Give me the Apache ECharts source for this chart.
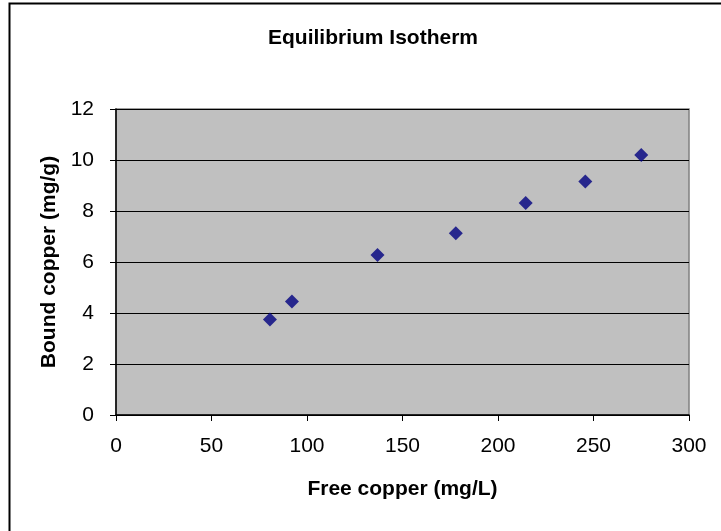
<!DOCTYPE html>
<html>
<head>
<meta charset="utf-8">
<script src="https://cdn.jsdelivr.net/npm/echarts@6/dist/echarts.min.js"></script>
<style>
  html, body { margin: 0; padding: 0; background: #fff; }
  #chart { width: 721px; height: 531px; }
</style>
</head>
<body>
<div id="chart"></div>
<script>
// free copper (mg/L) vs bound copper (mg/g)
const freeCopper = [80.6, 92.1, 136.9, 177.9, 214.5, 245.7, 275.0]
const boundCopper = [3.75, 4.45, 6.27, 7.13, 8.31, 9.16, 10.2]

const xTicks = [0, 50, 100, 150, 200, 250, 300]
const yTicks = [0, 2, 4, 6, 8, 10, 12]

const chart = echarts.init(document.getElementById('chart'))

const points = freeCopper.map((x, i) => [x, boundCopper[i]])

const font = '"Liberation Sans", Arial, sans-serif'

const option = {
  animation: false,
  backgroundColor: '#fff',
  title: {
    text: 'Equilibrium Isotherm',
    left: 263,
    top: 23,
    textStyle: { fontFamily: font, fontSize: 21, fontWeight: 'bold', color: '#000' }
  },
  graphic: [
    {
      type: 'rect',
      left: 7,
      top: 1,
      shape: { width: 730, height: 545 },
      style: { fill: 'none', stroke: '#000', lineWidth: 2 },
      silent: true
    }
  ],
  grid: {
    left: 116,
    top: 109,
    right: 32,
    bottom: 116,
    show: true,
    backgroundColor: '#c0c0c0',
    borderColor: '#808080',
    borderWidth: 1.5
  },
  xAxis: {
    type: 'value',
    min: xTicks[0],
    max: xTicks[xTicks.length - 1],
    interval: 50,
    name: 'Free copper (mg/L)',
    nameLocation: 'middle',
    nameGap: 64,
    nameTextStyle: { fontFamily: font, fontSize: 21, fontWeight: 'bold', color: '#000' },
    axisLine: { show: true, lineStyle: { color: '#000', width: 1.5 } },
    axisTick: { show: true, inside: false, length: 6, lineStyle: { color: '#000' } },
    axisLabel: { fontFamily: font, fontSize: 21, color: '#000', margin: 21 },
    splitLine: { show: false }
  },
  yAxis: {
    type: 'value',
    min: yTicks[0],
    max: yTicks[yTicks.length - 1],
    interval: 2,
    name: 'Bound copper (mg/g)',
    nameLocation: 'middle',
    nameGap: 52,
    nameTextStyle: { fontFamily: font, fontSize: 21, fontWeight: 'bold', color: '#000' },
    axisLine: { show: true, lineStyle: { color: '#000', width: 1.5 } },
    axisTick: { show: true, inside: false, length: 6, lineStyle: { color: '#000' } },
    axisLabel: { fontFamily: font, fontSize: 21, color: '#000', margin: 22 },
    splitLine: { show: true, lineStyle: { color: '#000', width: 1.2 } }
  },
  series: [
    {
      type: 'scatter',
      symbol: 'diamond',
      symbolSize: 14,
      itemStyle: { color: '#000080' },
      data: points
    }
  ]
}

chart.setOption(option)
</script>
</body>
</html>
